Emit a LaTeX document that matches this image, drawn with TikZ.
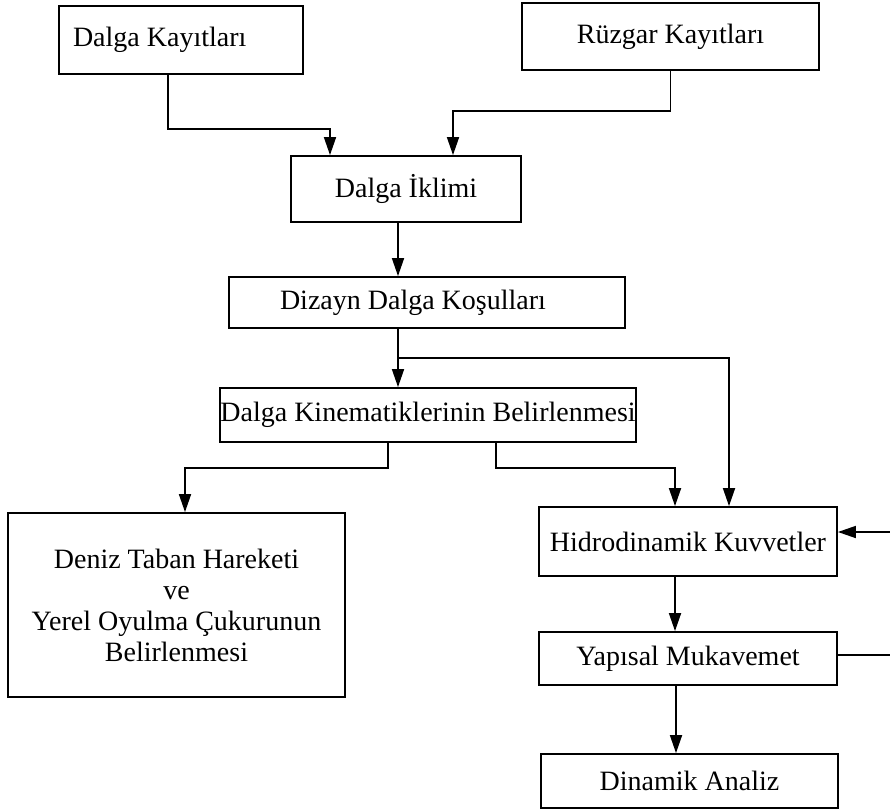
\documentclass[tikz,border=0pt]{standalone}
\usepackage{fontspec}
\setmainfont{Liberation Serif}
\usetikzlibrary{arrows.meta,positioning,calc}

\begin{document}
\begin{tikzpicture}[x=1pt,y=-1pt,font=\fontsize{28}{31}\selectfont,
  box/.style={draw,line width=1.8pt,inner sep=0pt,align=center},
  leftbox/.style={box,align=flush left},
  arr/.style={line width=1.7pt,-{Triangle[length=18pt,width=12pt]}}]
\useasboundingbox (0,0) rectangle (890,810);
\node[leftbox,minimum width=244pt,minimum height=68pt,text width=216pt,inner xsep=14pt]
  (wave) at (181,40) {Dalga Kayıtları};
\node[box,minimum width=297pt,minimum height=67pt] (wind) at (670.5,36.5) {Rüzgar Kayıtları};
\node[box,minimum width=230pt,minimum height=66pt] (climate) at (406,189) {Dalga İklimi};
\node[leftbox,minimum width=396pt,minimum height=51pt,text width=294pt,inner xsep=51pt]
  (design) at (427,302.5) {Dizayn Dalga Koşulları};
\node[box,minimum width=410pt,minimum height=54pt] (kinem) at (428,415)
  {Dalga Kinematiklerinin Belirlenmesi};
\node[box,minimum width=337pt,minimum height=184pt] (seabed) at (176.5,605)
  {Deniz Taban Hareketi\\ve\\Yerel Oyulma Çukurunun\\Belirlenmesi};
\node[box,minimum width=298pt,minimum height=69pt] (hydro) at (688,541.5) {Hidrodinamik Kuvvetler};
\node[box,minimum width=298pt,minimum height=53pt] (struct) at (688,658.5) {Yapısal Mukavemet};
\node[box,minimum width=297pt,minimum height=54pt] (dyn) at (689.5,781) {Dinamik Analiz};

\draw[arr] ($(wave.south)+(-13,0)$) -- ++(0,54) -| ($(climate.north)+(-76,0)$);
\draw[arr] (wind.south) -- ++(0,40) -| ($(climate.north)+(47,0)$);
\draw[arr] ($(climate.south)+(-8,0)$) coordinate (c1) -- (c1 |- design.north);
\draw[arr] ($(design.south)+(-29,0)$) coordinate (d1) -- (d1 |- kinem.north);
\draw[arr] ($(design.south)+(-29,29)$) -| ($(hydro.north)+(41,0)$);
\draw[arr] ($(kinem.south)+(-40,0)$) -- ++(0,25) -| ($(seabed.north)+(8.5,0)$);
\draw[arr] ($(kinem.south)+(68,0)$) -- ++(0,25) -| ($(hydro.north)+(-13,0)$);
\draw[arr] ($(hydro.south)+(-13,0)$) coordinate (h1) -- (h1 |- struct.north);
\draw[arr] ($(struct.south)+(-12,0)$) coordinate (s1) -- (s1 |- dyn.north);

\coordinate (fbin) at (890,532);
\coordinate (fbout) at (890,655);
\draw[arr] (fbin) -- (fbin -| hydro.east);
\draw[line width=1.7pt] (fbout -| struct.east) -- (fbout);
\end{tikzpicture}
\end{document}
